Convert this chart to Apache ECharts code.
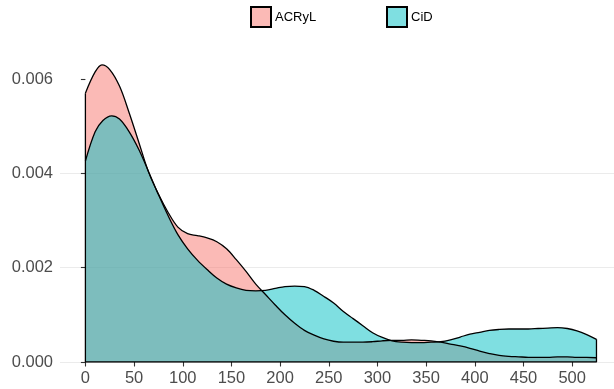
<!DOCTYPE html>
<html>
<head>
<meta charset="utf-8">
<script src="https://cdn.jsdelivr.net/npm/echarts@6/dist/echarts.min.js"></script>
<style>html,body{margin:0;padding:0;background:#fff}#c{width:614px;height:389px}</style>
</head>
<body>
<div id="c"></div>
<script>
// Density values (y in units of 0.001)
var acrylX = [0,10,17,25,35,45,55,65,75,85,95,105,115,125,135,145,155,165,175,185,195,205,215,225,235,245,255,265,275,285,295,305,315,325,335,345,355,365,375,385,395,405,415,425,435,445,455,465,475,485,495,505,515,525];
var acrylY = [5.70,6.15,6.30,6.20,5.85,5.28,4.65,4.02,3.56,3.17,2.86,2.72,2.68,2.63,2.55,2.40,2.17,1.92,1.65,1.43,1.21,1.00,0.82,0.67,0.57,0.49,0.44,0.42,0.42,0.42,0.43,0.45,0.46,0.46,0.47,0.46,0.45,0.42,0.38,0.34,0.29,0.23,0.18,0.14,0.12,0.11,0.10,0.10,0.10,0.11,0.11,0.10,0.10,0.09];
var cidX = [0,10,18,27,35,45,55,65,75,85,95,105,115,125,135,145,155,165,175,185,195,205,215,225,235,245,255,265,275,285,295,305,315,325,335,345,355,365,375,385,395,405,415,425,435,445,455,465,475,485,495,505,515,525];
var cidY = [4.26,4.88,5.12,5.22,5.15,4.88,4.50,4.03,3.55,3.10,2.70,2.40,2.16,1.96,1.78,1.65,1.57,1.52,1.51,1.52,1.56,1.60,1.61,1.60,1.52,1.39,1.25,1.07,0.92,0.77,0.62,0.52,0.45,0.42,0.41,0.41,0.42,0.43,0.47,0.53,0.59,0.63,0.67,0.69,0.70,0.70,0.70,0.71,0.72,0.73,0.71,0.66,0.58,0.48];
var xTicks = [0,50,100,150,200,250,300,350,400,450,500];
var yTicks = [0,0.002,0.004,0.006];
var seriesNames = ['ACRyL','CiD'];

function build(xs, ys){
  var d = [];
  for (var i = 0; i < xs.length; i++) d.push([xs[i], ys[i] / 1000]);
  return d;
}
var acrylData = build(acrylX, acrylY);
var cidData = build(cidX, cidY);
// outline edges: left edge of the taller curve, baseline, right edge of the taller curve
var xEnd = cidX[cidX.length-1];
var edgeData = [[0, acrylY[0]/1000],[0,0],[xEnd,0],[xEnd, cidY[cidY.length-1]/1000]];

var chart = echarts.init(document.getElementById('c'), null, {renderer:'canvas'});
var axisFont = {fontFamily:'Liberation Sans, Arial, sans-serif', fontSize:16.5, color:'#4D4D4D'};
var legendText = {fontFamily:'Liberation Sans, Arial, sans-serif', fontSize:13, color:'#000', padding:[0,0,0,-1]};
chart.setOption({
  animation:false,
  backgroundColor:'#fff',
  grid:{left:60, right:0, top:0, bottom:27, containLabel:false},
  legend:[
    {data:[seriesNames[0]], left:245, top:1, itemWidth:20, itemHeight:20, icon:'rect', itemGap:0, textStyle:legendText},
    {data:[seriesNames[1]], left:381, top:1, itemWidth:20, itemHeight:20, icon:'rect', itemGap:0, textStyle:legendText}
  ],
  xAxis:{type:'value', min:-26.1, max:543,
    axisLine:{show:false},
    splitLine:{show:false},
    axisTick:{show:true, length:4.5, lineStyle:{color:'#333', width:1.1}, customValues:xTicks},
    axisLabel:Object.assign({margin:8, customValues:xTicks}, axisFont)
  },
  yAxis:{type:'value', min:0, max:0.007675, interval:0.002,
    axisLine:{show:false},
    splitLine:{show:true, showMaxLine:false, lineStyle:{color:'#EBEBEB', width:1.1}},
    axisTick:{show:true, length:4.5, lineStyle:{color:'#333', width:1.1}, customValues:yTicks},
    axisLabel:Object.assign({margin:7, customValues:yTicks, formatter:function(v){return v.toFixed(3);}}, axisFont)
  },
  series:[
    {name:seriesNames[0], type:'line', data:acrylData, smooth:0.35, symbol:'none',
     lineStyle:{color:'#000', width:1.3},
     itemStyle:{color:'rgba(248,118,109,0.5)', borderColor:'#000', borderWidth:1.5},
     areaStyle:{color:'rgba(248,118,109,0.5)', opacity:1}},
    {name:seriesNames[1], type:'line', data:cidData, smooth:0.35, symbol:'none',
     lineStyle:{color:'#000', width:1.3},
     itemStyle:{color:'rgba(0,191,196,0.5)', borderColor:'#000', borderWidth:1.5},
     areaStyle:{color:'rgba(0,191,196,0.5)', opacity:1}},
    {name:'edges', type:'line', data:edgeData, symbol:'none', silent:true,
     lineStyle:{color:'#000', width:1.3}, z:3}
  ]
});
</script>
</body>
</html>
